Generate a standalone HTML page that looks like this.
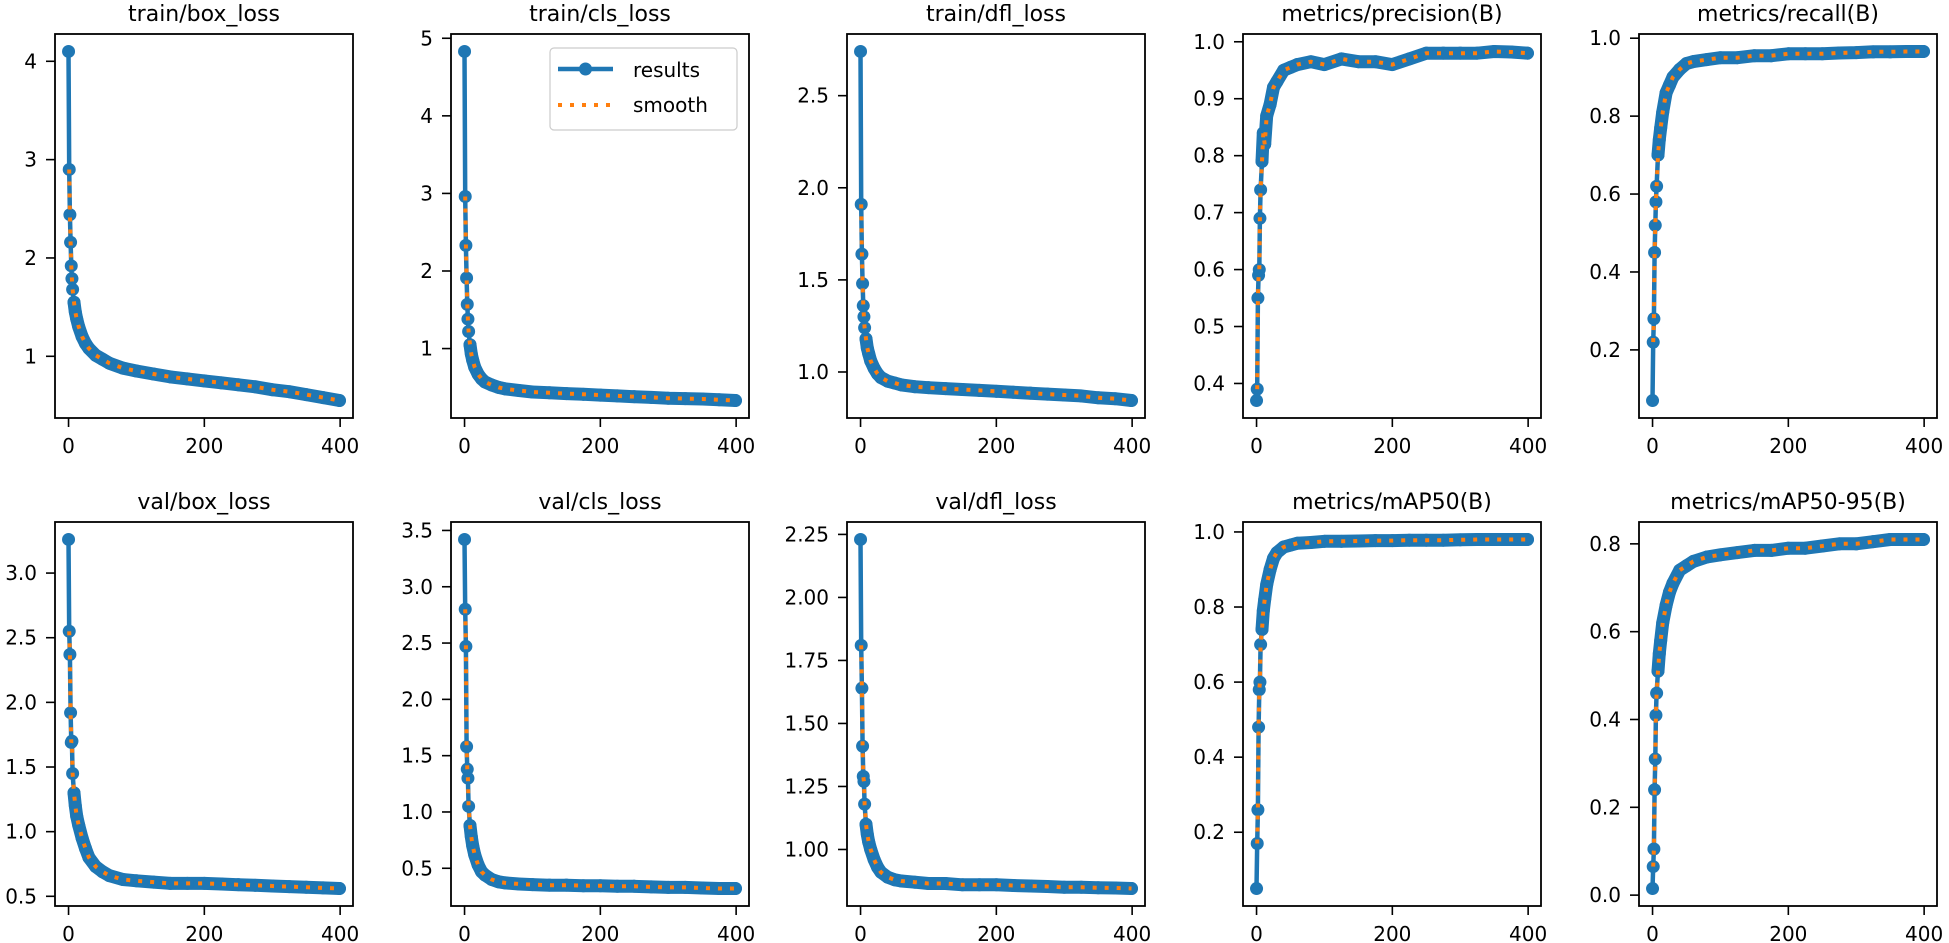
<!DOCTYPE html>
<html><head><meta charset="utf-8"><style>
html,body{margin:0;padding:0;background:#fff;}
svg{display:block;font-family:"DejaVu Sans","Liberation Sans",sans-serif;}
</style></head><body>
<svg id="fig" width="1949" height="943" viewBox="0 0 1949 943" xmlns="http://www.w3.org/2000/svg"></svg>
<script>
const epochs = [0,1,2,3,4,5,6,8,10,12,15,20,25,30,40,50,60,80,100,125,150,175,200,225,250,275,300,325,350,375,399];
const titles = ["train/box_loss","train/cls_loss","train/dfl_loss","metrics/precision(B)","metrics/recall(B)","val/box_loss","val/cls_loss","val/dfl_loss","metrics/mAP50(B)","metrics/mAP50-95(B)"];
const trainBox = [4.1,2.9,2.44,2.16,1.92,1.79,1.68,1.55,1.45,1.38,1.30,1.20,1.13,1.08,1.01,0.97,0.93,0.88,0.85,0.82,0.79,0.77,0.75,0.73,0.71,0.69,0.66,0.64,0.61,0.58,0.55];
const trainCls = [4.83,2.96,2.33,1.91,1.57,1.38,1.22,1.05,0.93,0.85,0.76,0.67,0.61,0.57,0.53,0.50,0.48,0.46,0.44,0.43,0.42,0.41,0.40,0.39,0.38,0.37,0.36,0.355,0.35,0.34,0.33];
const trainDfl = [2.74,1.91,1.64,1.48,1.36,1.30,1.24,1.18,1.13,1.10,1.06,1.02,0.99,0.97,0.95,0.94,0.93,0.92,0.915,0.91,0.905,0.90,0.895,0.89,0.885,0.88,0.875,0.87,0.86,0.855,0.845];
const precision = [0.37,0.39,0.55,0.59,0.60,0.69,0.74,0.79,0.84,0.82,0.87,0.89,0.92,0.93,0.95,0.955,0.96,0.965,0.96,0.97,0.965,0.965,0.96,0.97,0.98,0.98,0.98,0.98,0.983,0.982,0.98];
const recall = [0.07,0.22,0.28,0.45,0.52,0.58,0.62,0.70,0.74,0.77,0.81,0.86,0.88,0.90,0.92,0.935,0.94,0.945,0.95,0.95,0.955,0.955,0.96,0.96,0.96,0.962,0.963,0.965,0.965,0.966,0.966];
const valBox = [3.26,2.55,2.37,1.92,1.69,1.70,1.45,1.30,1.20,1.12,1.05,0.95,0.87,0.80,0.73,0.69,0.66,0.63,0.62,0.61,0.60,0.60,0.60,0.595,0.59,0.585,0.58,0.575,0.57,0.565,0.56];
const valCls = [3.42,2.80,2.47,1.58,1.38,1.30,1.05,0.88,0.78,0.70,0.62,0.53,0.47,0.44,0.40,0.38,0.37,0.36,0.355,0.35,0.35,0.345,0.345,0.34,0.34,0.335,0.33,0.33,0.325,0.32,0.32];
const valDfl = [2.23,1.81,1.64,1.41,1.29,1.27,1.18,1.10,1.06,1.03,1.00,0.96,0.93,0.91,0.89,0.88,0.875,0.87,0.865,0.865,0.86,0.86,0.86,0.857,0.855,0.853,0.85,0.85,0.848,0.847,0.845];
const map50 = [0.05,0.17,0.26,0.48,0.58,0.60,0.70,0.74,0.79,0.82,0.86,0.90,0.93,0.945,0.96,0.965,0.97,0.972,0.975,0.975,0.976,0.977,0.977,0.978,0.978,0.978,0.979,0.98,0.98,0.98,0.98];
const map5095 = [0.015,0.065,0.105,0.24,0.31,0.41,0.46,0.51,0.55,0.58,0.62,0.66,0.69,0.71,0.74,0.75,0.76,0.77,0.775,0.78,0.785,0.785,0.79,0.79,0.795,0.80,0.80,0.805,0.81,0.81,0.81];
const xTicks = [0,200,400];
const yTicks = [[1,2,3,4,5],[1,2,3,4,5],[1.0,1.5,2.0,2.5],[0.4,0.5,0.6,0.7,0.8,0.9,1.0],[0.2,0.4,0.6,0.8,1.0],[0.5,1.0,1.5,2.0,2.5,3.0],[0.5,1.0,1.5,2.0,2.5,3.0,3.5],[1.00,1.25,1.50,1.75,2.00,2.25],[0.2,0.4,0.6,0.8,1.0],[0.0,0.2,0.4,0.6,0.8]];
const yDecimals = [0,0,1,1,1,1,1,2,1,1];
const series = [trainBox,trainCls,trainDfl,precision,recall,valBox,valCls,valDfl,map50,map5095];

const NS="http://www.w3.org/2000/svg";
const fig=document.getElementById('fig');
function mk(tag,attrs,parent){const e=document.createElementNS(NS,tag);for(const k in attrs)e.setAttribute(k,attrs[k]);(parent||fig).appendChild(e);return e;}
const W=298,H=384,pitch=396,rowTop=[34,522];
series.forEach((vals,i)=>{
  const col=i%5,row=Math.floor(i/5);
  const L=55+col*pitch,T=rowTop[row],R=L+W,B=T+H;
  const g=mk('g',{});
  
  
  const xmin=Math.min(...epochs),xmax=Math.max(...epochs),xm=(xmax-xmin)*0.05;
  const ymin=Math.min(...vals),ymax=Math.max(...vals),ym=(ymax-ymin)*0.05;
  const sx=v=>L+(v-(xmin-xm))/((xmax+xm)-(xmin-xm))*W;
  const sy=v=>B-(v-(ymin-ym))/((ymax+ym)-(ymin-ym))*H;
  const t=mk('text',{x:L+W/2,y:T-13,'text-anchor':'middle','font-size':22,fill:'#000'},g);
  t.textContent=titles[i];
  
  
  const pts=epochs.map((e,j)=>sx(e).toFixed(1)+','+sy(vals[j]).toFixed(1));
  const line=mk('polyline',{points:pts.join(' '),fill:'none',stroke:'#1f77b4','stroke-width':4.5,'stroke-linejoin':'round'},g);
  
  
  const band=mk('polyline',{points:pts.slice(7).join(' '),fill:'none',stroke:'#1f77b4','stroke-width':13,'stroke-linejoin':'round','stroke-linecap':'round'},g);
  
  
  epochs.forEach((e,j)=>{
    const c=mk('circle',{cx:sx(e),cy:sy(vals[j]),r:6.5,fill:'#1f77b4'},g);
    
    
  });
  const sm=mk('polyline',{points:pts.slice(1).join(' '),fill:'none',stroke:'#ff7f0e','stroke-width':4,'stroke-dasharray':'4 8'},g);
  
  
  const fr=mk('rect',{x:L,y:T,width:W,height:H,fill:'none',stroke:'#000','stroke-width':1.8},g);
  
  
  xTicks.forEach(v=>{
    const x=sx(v);
    mk('line',{x1:x,y1:B,x2:x,y2:B+9,stroke:'#000','stroke-width':1.6},g);
    const tl=mk('text',{x:x,y:B+35,'text-anchor':'middle','font-size':20,fill:'#000'},g);
    tl.textContent=v;
    
    
  });
  yTicks[i].forEach(v=>{
    const y=sy(v);
    if(y<T-1||y>B+1)return;
    mk('line',{x1:L-9,y1:y,x2:L,y2:y,stroke:'#000','stroke-width':1.6},g);
    const tl=mk('text',{x:L-18,y:y+7,'text-anchor':'end','font-size':20,fill:'#000'},g);
    tl.textContent=v.toFixed(yDecimals[i]);
    
    
  });
});
// legend in subplot 2
const lg=mk('g',{});


mk('rect',{x:550,y:48,width:187,height:82,rx:4,fill:'#fff','fill-opacity':0.8,stroke:'#ccc','stroke-width':1.2},lg);
mk('line',{x1:558,y1:69,x2:613,y2:69,stroke:'#1f77b4','stroke-width':4.5},lg);
mk('circle',{cx:585.5,cy:69,r:6.5,fill:'#1f77b4'},lg);
mk('line',{x1:558,y1:105,x2:613,y2:105,stroke:'#ff7f0e','stroke-width':4,'stroke-dasharray':'4 8'},lg);
const l1=mk('text',{x:633,y:77,'font-size':20,fill:'#000'},lg);l1.textContent='results';


const l2=mk('text',{x:633,y:112,'font-size':20,fill:'#000'},lg);l2.textContent='smooth';


</script>
</body></html>
